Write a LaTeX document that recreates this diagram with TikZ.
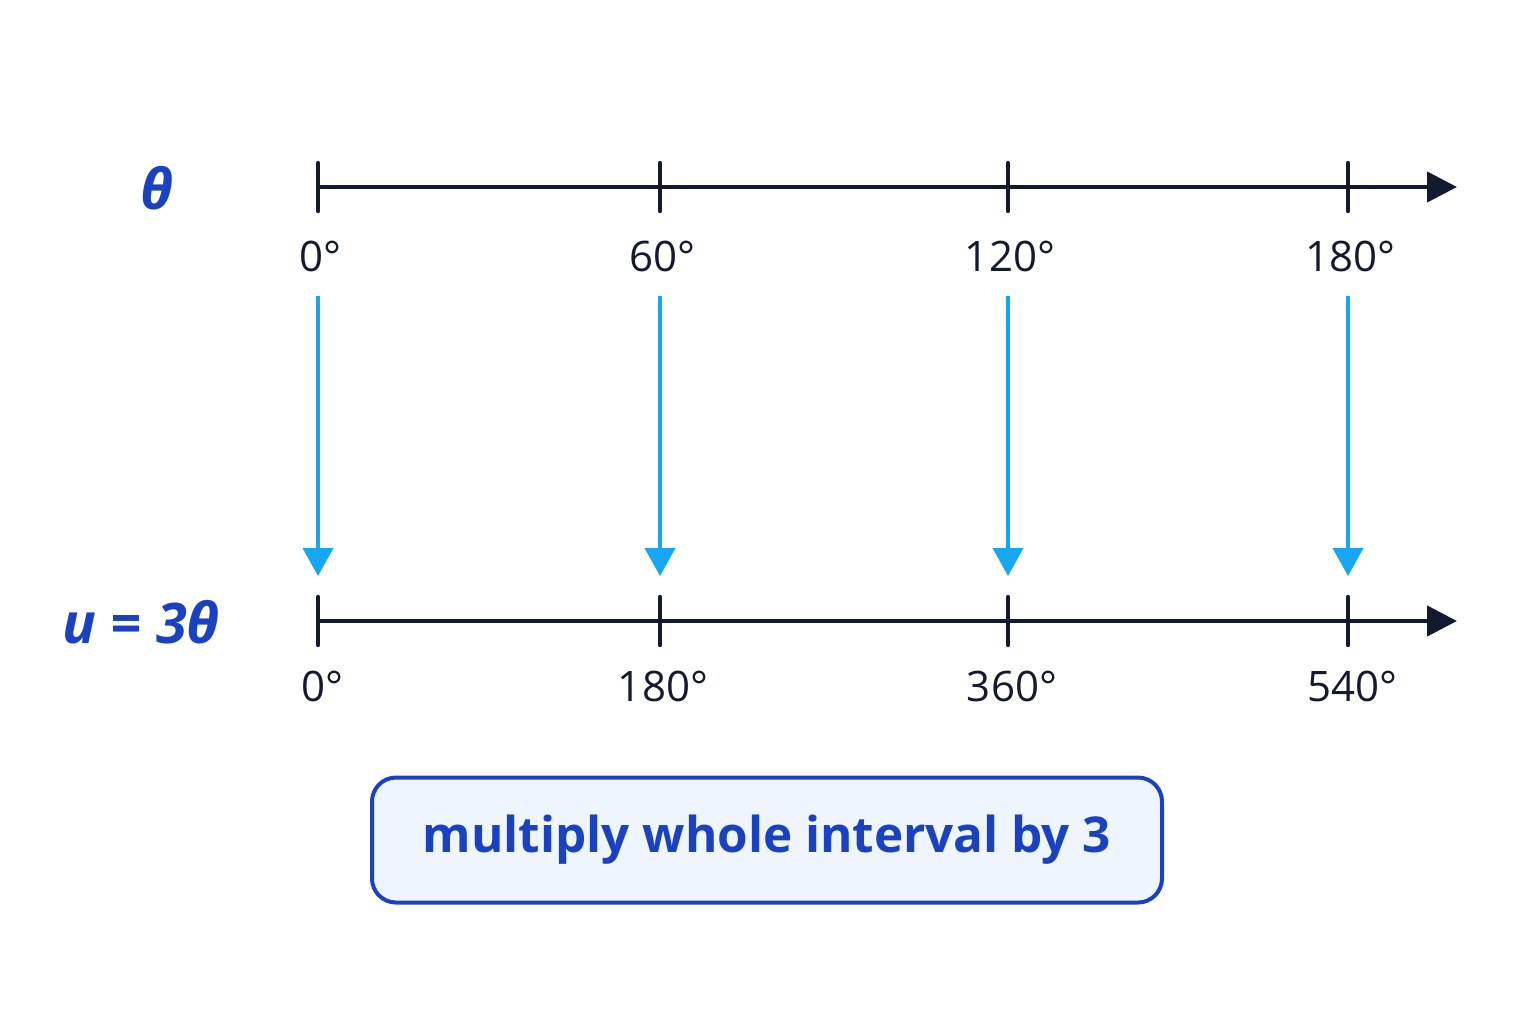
\documentclass[tikz,border=0pt]{standalone}
\usepackage{fontspec}
\setmainfont{Open Sans}
\usetikzlibrary{arrows.meta}
\definecolor{axiscol}{HTML}{141A2E}
\definecolor{mapcol}{HTML}{16A6F2}
\definecolor{labblue}{HTML}{1A42C0}
\definecolor{boxfill}{HTML}{EEF5FE}
\tikzset{
  axisline/.style={draw=axiscol, line width=2.2pt, -{Triangle[length=15pt,width=15pt]}},
  tickmark/.style={draw=axiscol, line width=2.2pt, line cap=round},
  ticklab/.style={text=axiscol, font=\fontsize{21}{24}\selectfont, inner sep=0pt},
  maparrow/.style={draw=mapcol, line width=2pt, -{Triangle[length=14pt,width=15pt]}},
  varlab/.style={text=labblue, font=\fontsize{28}{32}\selectfont\bfseries\itshape, inner sep=0pt},
  notebox/.style={draw=labblue, line width=2pt, fill=boxfill, rounded corners=12pt, minimum width=395pt, minimum height=62.5pt, text=labblue, font=\fontsize{24.7}{28}\selectfont\bfseries}
}
\begin{document}
\begin{tikzpicture}[x=0.5pt,y=-0.5pt]
\useasboundingbox (0,0) rectangle (1536,1024);
% top axis
\coordinate (t0) at (318,187);
\coordinate (t1) at (660,187);
\coordinate (t2) at (1008,187);
\coordinate (t3) at (1348,187);
\coordinate (tend) at (1457,187);
\draw[axisline] (t0) -- (tend);
\foreach \p in {t0,t1,t2,t3}{\draw[tickmark] ([yshift=12pt]\p) -- ([yshift=-12pt]\p);}
% bottom axis
\coordinate (b0) at (318,621);
\coordinate (b1) at (660,621);
\coordinate (b2) at (1008,621);
\coordinate (b3) at (1348,621);
\coordinate (bend) at (1457,621);
\draw[axisline] (b0) -- (bend);
\foreach \p in {b0,b1,b2,b3}{\draw[tickmark] ([yshift=12pt]\p) -- ([yshift=-12pt]\p);}
% labels
\node[varlab] (theta) at (157,188) {θ};
\node[varlab] (ueq) at (141,622) {u = 3θ};
\node[ticklab] (lt0) at (320,256) {0°};
\node[ticklab] (lt1) at (662,256) {60°};
\node[ticklab] (lt2) at (1010,256) {120°};
\node[ticklab] (lt3) at (1350,256) {180°};
\node[ticklab] (lb0) at (322,686) {0°};
\node[ticklab] (lb1) at (663,686) {180°};
\node[ticklab] (lb2) at (1012,686) {360°};
\node[ticklab] (lb3) at (1352,686) {540°};
% map arrows
\coordinate (a0) at (318,296); \coordinate (e0) at (318,576);
\coordinate (a1) at (660,296); \coordinate (e1) at (660,576);
\coordinate (a2) at (1008,296); \coordinate (e2) at (1008,576);
\coordinate (a3) at (1348,296); \coordinate (e3) at (1348,576);
\foreach \i in {0,1,2,3}{\draw[maparrow] (a\i) -- (e\i);}
% box
\node[notebox] (note) at (767,840) {multiply whole interval by 3};
\end{tikzpicture}
\end{document}
